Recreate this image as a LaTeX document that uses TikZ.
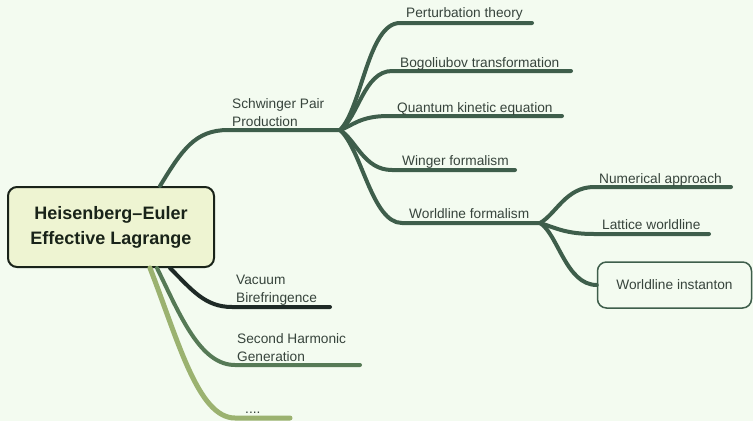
\documentclass[tikz,border=0pt]{standalone}
\usepackage{fontspec}
\setmainfont{Liberation Sans}
\definecolor{bgc}{RGB}{243,251,240}
\definecolor{brc}{RGB}{62,94,75}
\definecolor{vbc}{RGB}{30,42,38}
\definecolor{shc}{RGB}{86,122,86}
\definecolor{dtc}{RGB}{155,178,112}
\definecolor{rootfill}{RGB}{238,244,210}
\definecolor{rootdraw}{RGB}{25,35,25}
\definecolor{txc}{RGB}{55,68,60}
\begin{document}
\begin{tikzpicture}[x=1pt,y=-1pt,
  branch/.style={line width=4pt,line cap=round,draw=brc},
  lbl/.style={anchor=base west,inner sep=0pt,text=txc,align=left,font=\fontsize{13.7}{18}\selectfont},
  rootbox/.style={draw=rootdraw,line width=2pt,fill=rootfill,rounded corners=9pt,
    minimum width=206pt,minimum height=80pt,align=center,text=rootdraw,
    font=\fontsize{18}{25}\selectfont\bfseries},
  leafbox/.style={draw=brc,line width=1.5pt,rounded corners=9pt,minimum width=154pt,
    minimum height=46pt,text=txc,font=\fontsize{13.7}{18}\selectfont}]
\fill[bgc] (0,0) rectangle (753,421);
\useasboundingbox (0,0) rectangle (753,421);

% root
\node[rootbox] (root) at (111,227) {Heisenberg--Euler\\Effective Lagrange};

% hubs
\coordinate (hubA) at (340,130);
\coordinate (hubB) at (540,223);

% ---- Schwinger
\draw[branch] (root.north -| 160,0) .. controls (182,150) and (195,130) .. (228,130) -- (hubA);
\node[lbl] (sch) at (232,126) {Schwinger Pair\\Production};

\coordinate (p1) at (532,23);
\coordinate (p2) at (571,71);
\coordinate (p3) at (562,116);
\coordinate (p4) at (515,170);
\draw[branch] (hubA) .. controls (362,108) and (368,23) .. (400,23) -- (p1);
\draw[branch] (hubA) .. controls (358,118) and (364,71) .. (392,71) -- (p2);
\draw[branch] (hubA) .. controls (352,126) and (360,116) .. (388,116) -- (p3);
\draw[branch] (hubA) .. controls (356,140) and (364,170) .. (392,170) -- (p4);
\draw[branch] (hubA) .. controls (362,150) and (372,223) .. (402,223) -- (hubB);

\node[lbl] (pert) at (406,17) {Perturbation theory};
\node[lbl] (bogo) at (400,67) {Bogoliubov transformation};
\node[lbl] (qke) at (397,112) {Quantum kinetic equation};
\node[lbl] (wig) at (402,165) {Winger formalism};
\node[lbl] (wlf) at (409,218) {Worldline formalism};

% ---- Worldline sub-branches
\coordinate (q1) at (731,187);
\coordinate (q2) at (709,234);
\draw[branch] (hubB) .. controls (556,214) and (566,187) .. (594,187) -- (q1);
\draw[branch] (hubB) .. controls (556,228) and (566,234) .. (594,234) -- (q2);
\node[leafbox] (inst) at (674.5,285) {Worldline instanton};
\draw[branch] (hubB) .. controls (558,234) and (566,285) .. (inst.west);

\node[lbl] (num) at (599,183) {Numerical approach};
\node[lbl] (lat) at (602,229) {Lattice worldline};

% ---- Vacuum Birefringence
\coordinate (v1) at (330,307);
\draw[branch,draw=vbc] (root.south -| 170,0) .. controls (192,290) and (205,307) .. (232,307) -- (v1);
\node[lbl] (vac) at (236,302) {Vacuum\\Birefringence};

% ---- Second Harmonic Generation
\coordinate (s1) at (360,365);
\draw[branch,draw=shc] (root.south -| 157,0) .. controls (180,315) and (200,365) .. (235,365) -- (s1);
\node[lbl] (shg) at (237,361) {Second Harmonic\\Generation};

% ---- ....
\coordinate (d1) at (290,418);
\draw[branch,draw=dtc,line width=5pt] (root.south -| 150,0) .. controls (178,340) and (198,418) .. (235,418) -- (d1);
\node[lbl] (dots) at (245,413) {....};
\end{tikzpicture}
\end{document}
